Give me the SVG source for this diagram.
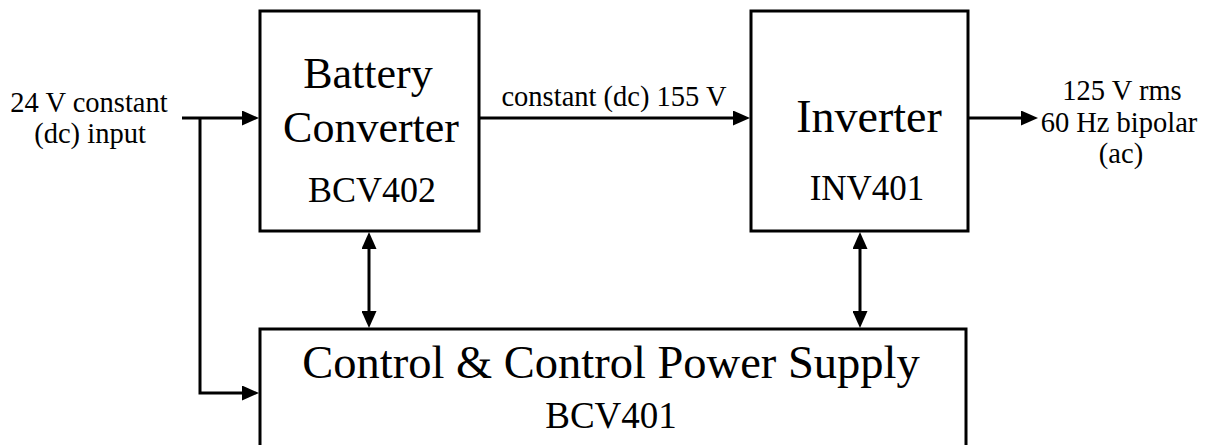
<svg xmlns="http://www.w3.org/2000/svg" width="1206" height="445" viewBox="0 0 1206 445">
  <style>
    .box { fill: #ffffff; stroke: #000000; stroke-width: 3; }
    .wire { fill: none; stroke: #000000; stroke-width: 3; }
    .t { font-family: "Liberation Serif", "Times New Roman", serif; fill: #000000; text-anchor: middle; }
    .big { font-size: 44px; }
    .mid { font-size: 36px; }
    .sm { font-size: 28.5px; }
  </style>
  <defs>
    <marker id="ah" markerUnits="userSpaceOnUse" markerWidth="17" markerHeight="15" viewBox="0 0 17 15" refX="6" refY="7.5" orient="auto-start-reverse">
      <path d="M0,0 L17,7.5 L0,15 z" fill="#000000"/>
    </marker>
  </defs>
  <rect width="1206" height="445" fill="#ffffff"/>

  <g id="battery-converter">
    <rect class="box" x="260" y="11" width="219" height="220"/>
    <text class="t big" x="368" y="88">Battery</text>
    <text class="t big" x="371" y="142">Converter</text>
    <text class="t mid" x="372" y="202">BCV402</text>
  </g>

  <g id="inverter">
    <rect class="box" x="751" y="11" width="217" height="220"/>
    <text class="t" style="font-size:46px" x="869" y="132">Inverter</text>
    <text class="t" style="font-size:35px" x="867" y="200">INV401</text>
  </g>

  <g id="control-power-supply">
    <rect class="box" x="260" y="329" width="706" height="140"/>
    <text class="t" style="font-size:46.5px" x="611" y="378">Control &amp; Control Power Supply</text>
    <text class="t" style="font-size:37px" x="611" y="428">BCV401</text>
  </g>

  <g id="input-label">
    <text class="t sm" x="89" y="112">24 V constant</text>
    <text class="t sm" x="90" y="143">(dc) input</text>
  </g>

  <g id="output-label">
    <text class="t sm" x="1122" y="100">125 V rms</text>
    <text class="t sm" x="1119" y="132">60 Hz bipolar</text>
    <text class="t sm" x="1121" y="163">(ac)</text>
  </g>

  <g id="connectors">
    <path class="wire" d="M182,118 L248,118" marker-end="url(#ah)"/>
    <path class="wire" d="M200,118 L200,393 L248,393" marker-end="url(#ah)"/>
    <path class="wire" d="M479,118 L739,118" marker-end="url(#ah)"/>
    <text class="t sm" x="614" y="106">constant (dc) 155 V</text>
    <path class="wire" d="M968,118 L1027,118" marker-end="url(#ah)"/>
    <path class="wire" d="M369,243 L369,317" marker-start="url(#ah)" marker-end="url(#ah)"/>
    <path class="wire" d="M860,243 L860,317" marker-start="url(#ah)" marker-end="url(#ah)"/>
  </g>
</svg>
